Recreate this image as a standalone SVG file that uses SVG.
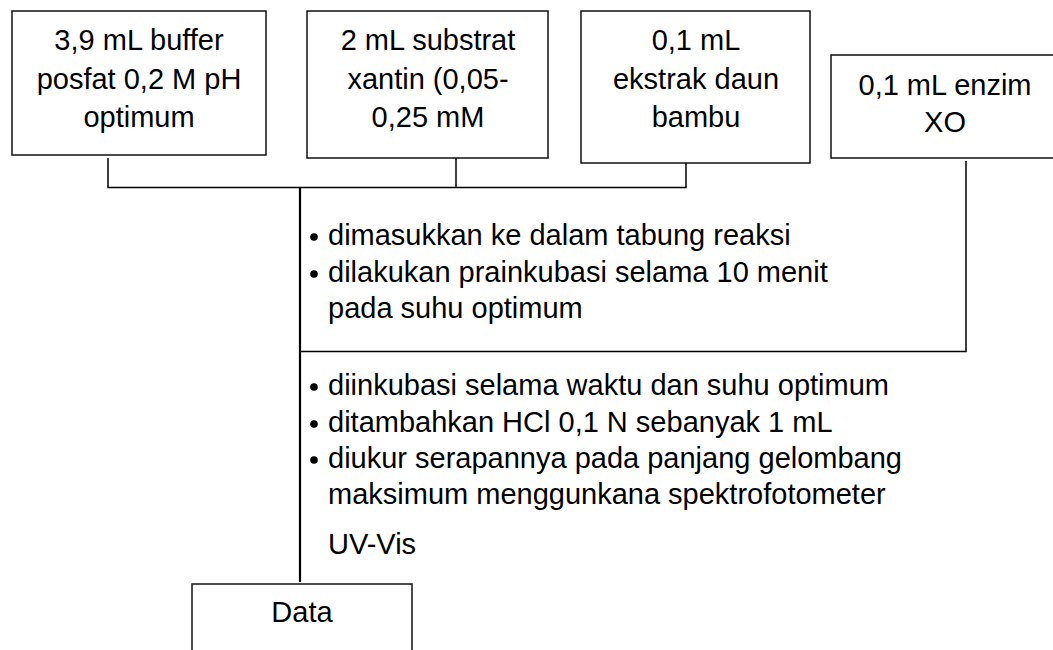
<svg xmlns="http://www.w3.org/2000/svg" width="1053" height="650" viewBox="0 0 1053 650">
<style>
.box{fill:#fff;stroke:#111;stroke-width:1.5}
.t{font-family:"Liberation Sans",Arial,sans-serif;font-size:29px;fill:#000}
.c{text-anchor:middle}
.ln{fill:none;stroke:#000;stroke-width:1.5}
.main{fill:none;stroke:#000;stroke-width:2.2}
.b{fill:#000}
</style>
<rect width="1053" height="650" fill="#fff"/>
<g id="connectors">
<polyline class="ln" points="108,158 108,187.5 686,187.5 686,163"/>
<line class="ln" x1="456" y1="157" x2="456" y2="187.5"/>
<line class="main" x1="300" y1="187" x2="300" y2="582"/>
<polyline class="ln" points="966,161 966,351.5 300,351.5"/>
</g>
<g id="n1">
<rect class="box" x="12" y="11" width="254" height="144"/>
<text class="t c" x="139" y="50">3,9 mL buffer</text>
<text class="t c" x="139" y="89">posfat 0,2 M pH</text>
<text class="t c" x="139" y="127">optimum</text>
</g>
<g id="n2">
<rect class="box" x="307" y="11" width="241" height="147"/>
<text class="t c" x="428" y="50">2 mL substrat</text>
<text class="t c" x="428" y="89">xantin (0,05-</text>
<text class="t c" x="428" y="127">0,25 mM</text>
</g>
<g id="n3">
<rect class="box" x="581" y="11" width="229" height="152"/>
<text class="t c" x="696" y="50">0,1 mL</text>
<text class="t c" x="696" y="89">ekstrak daun</text>
<text class="t c" x="696" y="127">bambu</text>
</g>
<g id="n4">
<rect class="box" x="831" y="55" width="230" height="103"/>
<text class="t c" x="945" y="95">0,1 mL enzim</text>
<text class="t c" x="945" y="132">XO</text>
</g>
<g id="step1">
<circle class="b" cx="314" cy="237" r="3.8"/>
<text class="t" x="328" y="245">dimasukkan ke dalam tabung reaksi</text>
<circle class="b" cx="314" cy="274" r="3.8"/>
<text class="t" x="328" y="282">dilakukan prainkubasi selama 10 menit</text>
<text class="t" x="328" y="318">pada suhu optimum</text>
</g>
<g id="step2">
<circle class="b" cx="314" cy="387" r="3.8"/>
<text class="t" x="328" y="395">diinkubasi selama waktu dan suhu optimum</text>
<circle class="b" cx="314" cy="424" r="3.8"/>
<text class="t" x="328" y="432">ditambahkan HCl 0,1 N sebanyak 1 mL</text>
<circle class="b" cx="314" cy="460" r="3.8"/>
<text class="t" x="328" y="468">diukur serapannya pada panjang gelombang</text>
<text class="t" x="328" y="504">maksimum menggunkana spektrofotometer</text>
<text class="t" x="328" y="554">UV-Vis</text>
</g>
<g id="n5">
<rect class="box" x="192" y="584" width="220" height="80"/>
<text class="t c" x="302" y="622">Data</text>
</g>
</svg>
